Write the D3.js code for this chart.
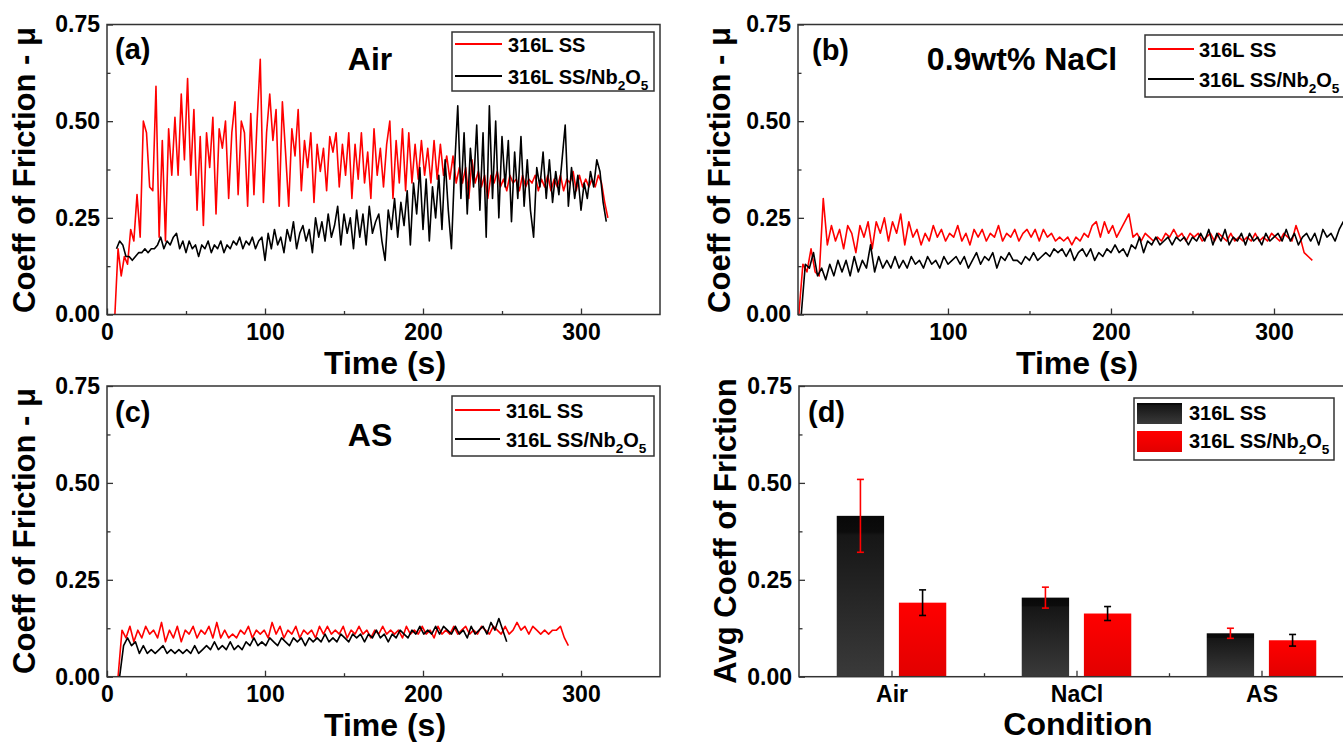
<!DOCTYPE html>
<html>
<head>
<meta charset="utf-8">
<script src="https://cdn.jsdelivr.net/npm/d3@7"></script>
<style>
  body { margin: 0; background: #fff; }
  svg { display: block; }
  text { font-family: "Liberation Sans", Arial, sans-serif; font-weight: bold; fill: #000; }
</style>
</head>
<body>
<svg id="chart" width="1343" height="742"></svg>
<script>
// ---- data read off the figure (time series sampled at a fixed step) ----
// (a) Air
const airSS_t0 = 5, airSS_dt = 2;
const airSS = [0.00,0.17,0.10,0.15,0.13,0.22,0.19,0.31,0.20,0.50,
  0.47,0.33,0.32,0.59,0.20,0.45,0.19,0.48,0.36,0.51,
  0.36,0.57,0.40,0.61,0.36,0.53,0.27,0.46,0.23,0.47,
  0.38,0.51,0.26,0.48,0.43,0.50,0.30,0.47,0.55,0.31,
  0.50,0.47,0.28,0.52,0.31,0.50,0.66,0.29,0.47,0.57,
  0.45,0.53,0.28,0.55,0.42,0.28,0.48,0.41,0.53,0.32,
  0.45,0.38,0.47,0.29,0.44,0.37,0.43,0.32,0.46,0.42,
  0.47,0.33,0.44,0.36,0.47,0.30,0.44,0.35,0.47,0.34,
  0.42,0.30,0.48,0.36,0.43,0.33,0.44,0.50,0.30,0.45,
  0.34,0.48,0.32,0.47,0.34,0.44,0.35,0.45,0.36,0.43,
  0.34,0.45,0.35,0.44,0.36,0.41,0.35,0.41,0.34,0.38,
  0.34,0.38,0.30,0.40,0.34,0.37,0.33,0.36,0.30,0.36,
  0.34,0.37,0.33,0.35,0.32,0.36,0.34,0.35,0.32,0.36,
  0.33,0.35,0.34,0.36,0.32,0.35,0.33,0.36,0.32,0.35,
  0.33,0.36,0.32,0.35,0.34,0.37,0.32,0.36,0.33,0.35,
  0.33,0.35,0.33,0.36,0.34,0.29,0.25];
const airNb_t0 = 6, airNb_dt = 2;
const airNb = [0.17,0.19,0.18,0.15,0.15,0.14,0.15,0.16,0.16,0.17,
  0.16,0.17,0.17,0.18,0.20,0.17,0.19,0.18,0.20,0.21,
  0.17,0.19,0.16,0.19,0.17,0.18,0.15,0.18,0.17,0.19,
  0.16,0.18,0.17,0.19,0.16,0.18,0.17,0.19,0.18,0.20,
  0.17,0.19,0.18,0.20,0.17,0.19,0.20,0.14,0.21,0.17,
  0.22,0.18,0.20,0.16,0.22,0.19,0.24,0.17,0.21,0.23,
  0.19,0.22,0.16,0.25,0.20,0.24,0.19,0.26,0.20,0.23,
  0.28,0.18,0.26,0.21,0.25,0.17,0.27,0.20,0.26,0.18,
  0.28,0.21,0.24,0.26,0.19,0.14,0.27,0.22,0.30,0.20,
  0.29,0.23,0.32,0.18,0.34,0.26,0.38,0.22,0.35,0.19,
  0.33,0.25,0.36,0.22,0.40,0.27,0.17,0.38,0.54,0.30,
  0.47,0.26,0.43,0.33,0.49,0.27,0.47,0.20,0.54,0.30,
  0.50,0.25,0.46,0.33,0.45,0.24,0.42,0.30,0.46,0.28,
  0.40,0.27,0.20,0.38,0.33,0.42,0.30,0.40,0.29,0.37,
  0.31,0.40,0.49,0.28,0.38,0.30,0.36,0.27,0.34,0.30,
  0.37,0.33,0.40,0.37,0.29,0.24];

// (b) 0.9wt% NaCl
const naclSS_t0 = 8.5, naclSS_dt = 2.5;
const naclSS = [0.00,0.13,0.11,0.17,0.11,0.10,0.30,0.18,0.23,0.19,
  0.22,0.17,0.23,0.21,0.16,0.23,0.20,0.24,0.17,0.24,
  0.21,0.25,0.19,0.24,0.21,0.26,0.18,0.24,0.20,0.22,
  0.18,0.21,0.19,0.23,0.20,0.22,0.19,0.21,0.20,0.23,
  0.19,0.21,0.18,0.22,0.20,0.22,0.19,0.21,0.20,0.23,
  0.19,0.21,0.20,0.22,0.19,0.21,0.22,0.20,0.22,0.19,
  0.22,0.20,0.21,0.19,0.20,0.19,0.20,0.18,0.20,0.19,
  0.21,0.20,0.23,0.24,0.20,0.24,0.21,0.23,0.20,0.22,
  0.24,0.26,0.20,0.21,0.19,0.21,0.20,0.19,0.20,0.19,
  0.21,0.20,0.22,0.20,0.21,0.19,0.21,0.20,0.21,0.19,
  0.20,0.21,0.19,0.21,0.20,0.19,0.21,0.19,0.20,0.19,
  0.20,0.19,0.21,0.19,0.20,0.19,0.21,0.20,0.19,0.21,
  0.20,0.19,0.23,0.20,0.16,0.15,0.14];
const naclNb_t0 = 10, naclNb_dt = 2.5;
const naclNb = [0.00,0.13,0.12,0.16,0.10,0.12,0.09,0.13,0.10,0.14,
  0.11,0.14,0.10,0.15,0.11,0.14,0.12,0.18,0.11,0.15,
  0.12,0.14,0.12,0.15,0.12,0.14,0.12,0.15,0.13,0.14,
  0.12,0.15,0.13,0.14,0.12,0.15,0.13,0.14,0.15,0.13,
  0.15,0.12,0.14,0.16,0.13,0.15,0.14,0.16,0.12,0.15,
  0.14,0.16,0.14,0.14,0.13,0.15,0.14,0.16,0.14,0.15,
  0.16,0.15,0.17,0.16,0.17,0.15,0.17,0.14,0.16,0.17,
  0.15,0.17,0.14,0.16,0.15,0.17,0.16,0.18,0.16,0.17,
  0.15,0.18,0.17,0.20,0.16,0.19,0.18,0.20,0.18,0.19,
  0.20,0.18,0.20,0.19,0.20,0.18,0.20,0.19,0.21,0.19,
  0.22,0.18,0.21,0.19,0.22,0.18,0.20,0.19,0.21,0.18,
  0.21,0.19,0.20,0.18,0.21,0.19,0.20,0.21,0.19,0.22,
  0.19,0.21,0.18,0.20,0.21,0.19,0.21,0.18,0.22,0.20,
  0.21,0.19,0.22,0.24,0.20];

// (c) AS
const asSS_t0 = 7, asSS_dt = 2.5;
const asSS = [0.00,0.12,0.10,0.13,0.09,0.12,0.10,0.13,0.11,0.12,
  0.10,0.14,0.09,0.12,0.10,0.13,0.09,0.12,0.11,0.13,
  0.10,0.12,0.11,0.13,0.10,0.14,0.10,0.12,0.10,0.11,
  0.10,0.12,0.11,0.13,0.10,0.12,0.11,0.12,0.10,0.14,
  0.11,0.13,0.10,0.12,0.11,0.13,0.10,0.12,0.11,0.12,
  0.10,0.13,0.11,0.13,0.11,0.12,0.11,0.13,0.10,0.12,
  0.11,0.13,0.11,0.12,0.10,0.12,0.11,0.13,0.11,0.12,
  0.11,0.12,0.10,0.13,0.11,0.12,0.11,0.13,0.11,0.12,
  0.10,0.13,0.11,0.12,0.11,0.13,0.11,0.12,0.13,0.11,
  0.12,0.11,0.13,0.12,0.11,0.13,0.12,0.11,0.13,0.11,
  0.12,0.14,0.12,0.13,0.11,0.13,0.12,0.11,0.12,0.11,
  0.12,0.12,0.13,0.10,0.08];
const asNb_t0 = 8, asNb_dt = 2.5;
const asNb = [0.00,0.08,0.10,0.08,0.09,0.06,0.08,0.06,0.07,0.06,
  0.07,0.08,0.06,0.07,0.06,0.07,0.06,0.07,0.06,0.08,
  0.06,0.07,0.08,0.07,0.09,0.07,0.08,0.07,0.09,0.07,
  0.08,0.07,0.09,0.08,0.10,0.08,0.09,0.08,0.10,0.09,
  0.08,0.10,0.09,0.08,0.10,0.09,0.10,0.08,0.10,0.09,
  0.10,0.09,0.11,0.09,0.10,0.09,0.11,0.10,0.09,0.11,
  0.10,0.11,0.09,0.11,0.10,0.12,0.10,0.11,0.09,0.11,
  0.10,0.12,0.11,0.10,0.12,0.11,0.13,0.11,0.12,0.11,
  0.13,0.11,0.13,0.12,0.11,0.13,0.11,0.12,0.10,0.13,
  0.11,0.12,0.13,0.11,0.14,0.12,0.15,0.12,0.09];

// (d) averages
const conditions = ["Air", "NaCl", "AS"];
const avgSS = [0.415, 0.204, 0.112];
const errSS = [0.094, 0.027, 0.013];
const avgNb = [0.191, 0.163, 0.094];
const errNb = [0.033, 0.018, 0.015];

const seriesLabels = ["316L SS", "316L SS/Nb_2O_5"];
const yTicks = [0, 0.25, 0.5, 0.75];
const yMinor = [0.125, 0.375, 0.625];

const RED = "#ff0000", BLACK = "#000000", FRAME = "#333333";

const svg = d3.select("#chart");
const defs = svg.append("defs");

// label text with "_x" meaning subscript x
function richText(sel, str, size) {
    const parts = str.split("_");
    sel.append("tspan").text(parts[0]);
    parts.slice(1).forEach(p => {
        sel.append("tspan").attr("dy", size * 0.28).attr("font-size", size * 0.68).text(p[0]);
        if (p.length > 1) sel.append("tspan").attr("dy", -size * 0.28).text(p.slice(1));
    });
}

function drawAxes(g, x, y, box, xt) {
    const xa = g.append("g").attr("transform", `translate(0,${box.bottom})`)
        .call(d3.axisBottom(x).tickValues(xt.major).tickSizeInner(-6).tickSizeOuter(0)
            .tickPadding(xt.pad).tickFormat(xt.format));
    g.append("g").attr("transform", `translate(0,${box.bottom})`)
        .call(d3.axisBottom(x).tickValues(xt.minor).tickSizeInner(-3.5).tickSizeOuter(0).tickFormat(""));
    const ya = g.append("g").attr("transform", `translate(${box.left},0)`)
        .call(d3.axisLeft(y).tickValues(yTicks).tickSizeInner(-6).tickSizeOuter(0)
            .tickPadding(7).tickFormat(d3.format(".2f")));
    g.append("g").attr("transform", `translate(${box.left},0)`)
        .call(d3.axisLeft(y).tickValues(yMinor).tickSizeInner(-3.5).tickSizeOuter(0).tickFormat(""));
    g.selectAll(".domain").remove();
    g.selectAll(".tick line").attr("stroke", FRAME).attr("stroke-width", 1.3);
    xa.selectAll("text").style("font-size", "23px");
    ya.selectAll("text").style("font-size", "23px");
    g.append("rect")
        .attr("x", box.left).attr("y", box.top)
        .attr("width", box.right - box.left).attr("height", box.bottom - box.top)
        .attr("fill", "none").attr("stroke", FRAME).attr("stroke-width", 1.5);
}

function axisTitles(g, p) {
    g.append("text").attr("x", p.xTitle[0]).attr("y", p.xTitle[1])
        .attr("text-anchor", "middle").style("font-size", "32px").text(p.xLabel);
    g.append("text")
        .attr("transform", `translate(${p.yTitle[0]},${p.yTitle[1]}) rotate(-90)`)
        .attr("text-anchor", "middle").style("font-size", "31px").text(p.yLabel);
    g.append("text").attr("x", p.tagPos[0]).attr("y", p.tagPos[1]).style("font-size", "29px").text(p.tag);
    if (p.cond)
        g.append("text").attr("x", p.condPos[0]).attr("y", p.condPos[1])
            .attr("text-anchor", "middle").style("font-size", "32px").text(p.cond);
}

// ---- line panels ----
const linePanels = [
    {id: "a", box: {left: 107, right: 660, top: 24.5, bottom: 314.5}, xDomain: [0, 350],
     xt: {major: [0, 100, 200, 300], minor: [50, 150, 250], pad: 9},
     series: [{v: airSS, t0: airSS_t0, dt: airSS_dt, c: RED}, {v: airNb, t0: airNb_t0, dt: airNb_dt, c: BLACK}],
     tag: "(a)", tagPos: [115, 59], cond: "Air", condPos: [370, 70],
     xLabel: "Time (s)", xTitle: [385, 374], yLabel: "Coeff of Friction - \u03bc", yTitle: [35, 170],
     legend: {x: 452, y: 32, w: 202, h: 59, l0: 455, l1: 502, tx: 508, rows: [44, 76]}},
    {id: "b", box: {left: 798, right: 1355.5, top: 24.5, bottom: 314.5}, xDomain: [8, 350],
     xt: {major: [100, 200, 300], minor: [50, 150, 250], pad: 9},
     series: [{v: naclSS, t0: naclSS_t0, dt: naclSS_dt, c: RED}, {v: naclNb, t0: naclNb_t0, dt: naclNb_dt, c: BLACK}],
     tag: "(b)", tagPos: [812, 60], cond: "0.9wt% NaCl", condPos: [1022, 70],
     xLabel: "Time (s)", xTitle: [1077, 374], yLabel: "Coeff of Friction - \u03bc", yTitle: [730, 170],
     legend: {x: 1145, y: 35, w: 220, h: 62, l0: 1148, l1: 1194, tx: 1199, rows: [49, 79]}},
    {id: "c", box: {left: 107, right: 660, top: 386, bottom: 676.7}, xDomain: [0, 350],
     xt: {major: [0, 100, 200, 300], minor: [50, 150, 250], pad: 9},
     series: [{v: asSS, t0: asSS_t0, dt: asSS_dt, c: RED}, {v: asNb, t0: asNb_t0, dt: asNb_dt, c: BLACK}],
     tag: "(c)", tagPos: [115, 422], cond: "AS", condPos: [370, 446],
     xLabel: "Time (s)", xTitle: [385, 736], yLabel: "Coeff of Friction - \u03bc", yTitle: [35, 531],
     legend: {x: 452, y: 396, w: 202, h: 60, l0: 455, l1: 500, tx: 506, rows: [410, 439]}}
];

linePanels.forEach(p => {
    const g = svg.append("g").attr("class", "panel-" + p.id);
    const x = d3.scaleLinear().domain(p.xDomain).range([p.box.left, p.box.right]);
    const y = d3.scaleLinear().domain([0, 0.75]).range([p.box.bottom, p.box.top]);

    defs.append("clipPath").attr("id", "clip-" + p.id).append("rect")
        .attr("x", p.box.left).attr("y", p.box.top)
        .attr("width", p.box.right - p.box.left).attr("height", p.box.bottom - p.box.top);

    const line = d3.line().x(d => x(d[0])).y(d => y(d[1]));
    const plot = g.append("g").attr("clip-path", `url(#clip-${p.id})`);
    p.series.forEach(s => {
        const pts = s.v.map((v, i) => [s.t0 + i * s.dt, v]);
        plot.append("path").datum(pts)
            .attr("d", line).attr("fill", "none")
            .attr("stroke", s.c).attr("stroke-width", 1.6).attr("stroke-linejoin", "round");
    });

    drawAxes(g, x, y, p.box, {...p.xt, format: d3.format("d")});
    axisTitles(g, p);

    const L = p.legend;
    g.append("rect").attr("x", L.x).attr("y", L.y).attr("width", L.w).attr("height", L.h)
        .attr("fill", "#fff").attr("stroke", FRAME).attr("stroke-width", 1.5);
    [RED, BLACK].forEach((c, i) => {
        g.append("line").attr("x1", L.l0).attr("x2", L.l1).attr("y1", L.rows[i]).attr("y2", L.rows[i])
            .attr("stroke", c).attr("stroke-width", 1.8);
        g.append("text").attr("x", L.tx).attr("y", L.rows[i] + 8).style("font-size", "20px")
            .call(t => richText(t, seriesLabels[i], 20));
    });
});

// ---- bar panel (d) ----
(function () {
    const box = {left: 799, right: 1354, top: 386, bottom: 676.7};
    const g = svg.append("g").attr("class", "panel-d");
    const x = d3.scaleLinear().domain([0.5, 3.5]).range([box.left, box.right]);
    const y = d3.scaleLinear().domain([0, 0.75]).range([box.bottom, box.top]);

    const gk = defs.append("linearGradient").attr("id", "gradBlack").attr("x1", 0).attr("x2", 0).attr("y1", 0).attr("y2", 1);
    gk.append("stop").attr("offset", "0").attr("stop-color", "#080808");
    gk.append("stop").attr("offset", "0.1").attr("stop-color", "#0c0c0c");
    gk.append("stop").attr("offset", "0.12").attr("stop-color", "#161616");
    gk.append("stop").attr("offset", "1").attr("stop-color", "#3a3a3a");
    const gr = defs.append("linearGradient").attr("id", "gradRed").attr("x1", 0).attr("x2", 0).attr("y1", 0).attr("y2", 1);
    gr.append("stop").attr("offset", "0").attr("stop-color", "#ff0000");
    gr.append("stop").attr("offset", "1").attr("stop-color", "#e20000");

    const half = 0.128, off = 0.168;
    const groups = [
        {avg: avgSS, err: errSS, off: -off, fill: "url(#gradBlack)", errColor: RED},
        {avg: avgNb, err: errNb, off: off, fill: "url(#gradRed)", errColor: BLACK}
    ];
    groups.forEach(s => {
        const bars = g.append("g");
        bars.selectAll("rect").data(conditions).join("rect")
            .attr("x", (d, i) => x(i + 1 + s.off - half))
            .attr("width", (d, i) => x(i + 1 + s.off + half) - x(i + 1 + s.off - half))
            .attr("y", (d, i) => y(s.avg[i]))
            .attr("height", (d, i) => y(0) - y(s.avg[i]))
            .attr("fill", s.fill);
    });
    groups.forEach(s => {
        const eb = g.append("g").attr("stroke", s.errColor).attr("stroke-width", 1.6);
        conditions.forEach((c, i) => {
            const cx = x(i + 1 + s.off);
            const hi = y(s.avg[i] + s.err[i]), lo = y(s.avg[i] - s.err[i]);
            eb.append("line").attr("x1", cx).attr("x2", cx).attr("y1", hi).attr("y2", lo);
            eb.append("line").attr("x1", cx - 3.5).attr("x2", cx + 3.5).attr("y1", hi).attr("y2", hi);
            eb.append("line").attr("x1", cx - 3.5).attr("x2", cx + 3.5).attr("y1", lo).attr("y2", lo);
        });
    });

    drawAxes(g, x, y, box, {major: [1, 2, 3], minor: [1.5, 2.5], pad: 9, format: (d) => conditions[d - 1]});
    axisTitles(g, {xLabel: "Condition", xTitle: [1078, 735], yLabel: "Avg Coeff of Friction", yTitle: [736, 531],
        tag: "(d)", tagPos: [808, 422]});

    const L = {x: 1134, y: 398, w: 200, h: 62, sx: 1137, sw: 45, sh: 21, tx: 1189, rows: [403, 431]};
    g.append("rect").attr("x", L.x).attr("y", L.y).attr("width", L.w).attr("height", L.h)
        .attr("fill", "#fff").attr("stroke", FRAME).attr("stroke-width", 1.5);
    groups.forEach((s, i) => {
        g.append("rect").attr("x", L.sx).attr("y", L.rows[i]).attr("width", L.sw).attr("height", L.sh)
            .attr("fill", s.fill);
        g.append("text").attr("x", L.tx).attr("y", L.rows[i] + 17).style("font-size", "20px")
            .call(t => richText(t, seriesLabels[i], 20));
    });
})();
</script>
</body>
</html>
